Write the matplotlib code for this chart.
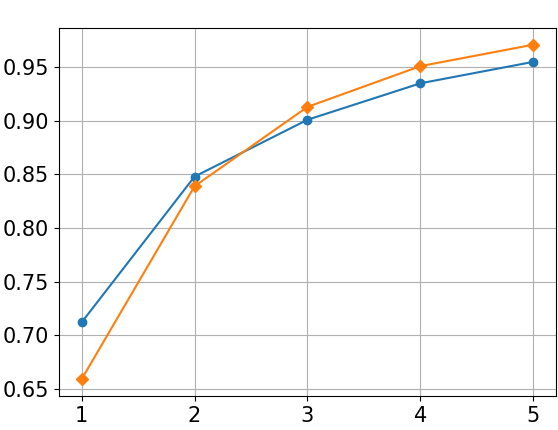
import matplotlib
matplotlib.use("Agg")
import matplotlib.pyplot as plt

x = [1, 2, 3, 4, 5]
blue_vals = [0.712, 0.848, 0.901, 0.935, 0.955]
orange_vals = [0.659, 0.839, 0.913, 0.951, 0.971]

fig = plt.figure(figsize=(5.58, 4.3), dpi=100)
ax = fig.add_axes([0.1057, 0.079, 0.8907, 0.856])

ax.plot(x, blue_vals, marker="o", color="tab:blue", markersize=6)
ax.plot(x, orange_vals, marker="D", color="tab:orange", markersize=6)

ax.set_xticks(x)
ax.set_yticks([0.65, 0.70, 0.75, 0.80, 0.85, 0.90, 0.95])
ax.tick_params(labelsize=15)
ax.grid(True, color="#b0b0b0")

fig.savefig("out.png", dpi=100)
